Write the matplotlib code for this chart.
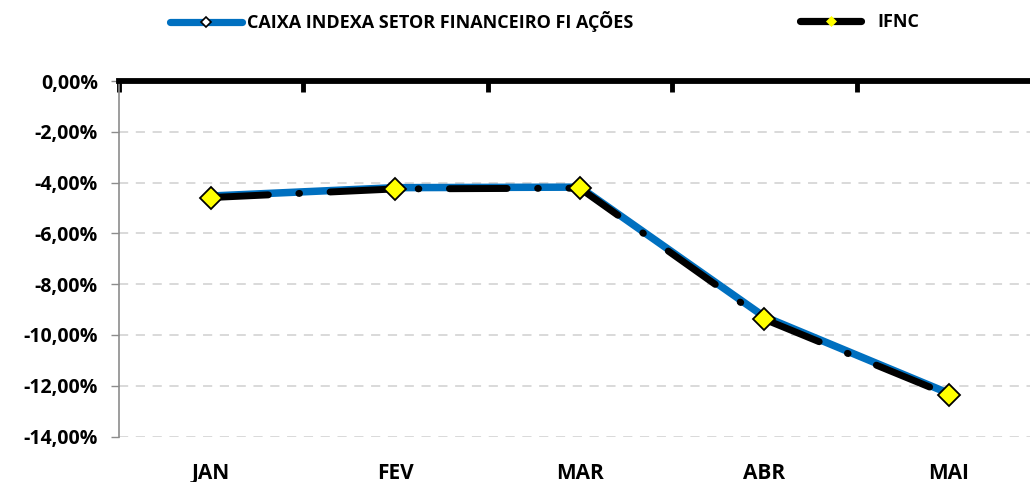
import matplotlib
matplotlib.use("Agg")
import matplotlib.pyplot as plt
from matplotlib.lines import Line2D
from matplotlib.ticker import FuncFormatter, FixedLocator

months = ["JAN", "FEV", "MAR", "ABR", "MAI"]
caixa = [-4.53, -4.20, -4.18, -9.28, -12.30]
ifnc = [-4.59, -4.25, -4.22, -9.38, -12.36]
series_names = ["CAIXA INDEXA SETOR FINANCEIRO FI AÇÕES", "IFNC"]
y_ticks = [0, -2, -4, -6, -8, -10, -12, -14]

FAM = ['Open Sans', 'DejaVu Sans']
plt.rcParams['font.family'] = FAM
plt.rcParams['font.weight'] = 'bold'

W, H = 1030, 482
fig = plt.figure(figsize=(W / 100, H / 100), dpi=100)
left, right, top, bottom = 118.5, 1041, 81, 436.5
ax = fig.add_axes([left / W, 1 - bottom / H, (right - left) / W, (bottom - top) / H])

x = list(range(len(months)))
blue = "#0070C0"
dash = (8.3, 4.4, 0.1, 4.4)

ax.plot(x, caixa, color=blue, lw=5.4, solid_capstyle='butt', zorder=3,
        marker='D', ms=5, mfc='white', mec='black', mew=1.0)
ax.plot(x, ifnc, color='black', lw=5.0, dashes=dash, dash_capstyle='round', zorder=4,
        marker='D', ms=11.5, mfc='#FFFF00', mec='black', mew=1.3)

ax.set_xlim(-0.5, len(months) - 0.5)
ax.set_ylim(-14, 0)

for yv in y_ticks[1:]:
    ax.axhline(yv, color='#D0D0D0', lw=1.1, dashes=(6, 5), zorder=1)

for s in ['right', 'bottom']:
    ax.spines[s].set_visible(False)
ax.spines['top'].set_color('black')
ax.spines['top'].set_linewidth(4.2)
ax.spines['top'].set_zorder(5)
ax.spines['left'].set_color('#8C8C8C')
ax.spines['left'].set_linewidth(1.2)

ax.yaxis.set_major_locator(FixedLocator(y_ticks))
def pct(v, pos):
    if abs(v) < 1e-9:
        v = 0.0
    return f"{v:.2f}%".replace('.', ',')
ax.yaxis.set_major_formatter(FuncFormatter(pct))
ax.tick_params(axis='y', direction='out', length=5.8, width=1.0, color='#8C8C8C',
               pad=9, labelsize=14, labelcolor='black')

ax.xaxis.set_major_locator(FixedLocator(x))
ax.set_xticklabels(months)
ax.xaxis.set_minor_locator(FixedLocator([i - 0.5 for i in range(len(months) + 1)]))
ax.tick_params(axis='x', which='major', bottom=True, top=False, length=0, pad=19,
               labelsize=15, labelbottom=True, labeltop=False)
ax.tick_params(axis='x', which='minor', bottom=False, top=True, direction='in',
               length=8, width=3.5, color='black')

for lab in ax.get_xticklabels() + ax.get_yticklabels():
    lab.set_fontweight('bold')

h1 = Line2D([], [], color=blue, lw=5.2, solid_capstyle='round',
            marker='D', ms=5, mfc='white', mec='black', mew=1.2)
h2 = Line2D([], [], color='black', lw=5.2, solid_capstyle='round',
            marker='D', ms=5, mfc='#FFFF00', mec='#FFFF00', mew=0.5)
prop = {'family': FAM, 'weight': 'bold', 'size': 13}
fig.legend([h1], [series_names[0]], loc='center left',
           bbox_to_anchor=(170 / W, 1 - 22 / H), frameon=False,
           borderpad=0, borderaxespad=0, handlelength=4.0, handletextpad=0.28, prop=prop)
fig.legend([h2], [series_names[1]], loc='center left',
           bbox_to_anchor=(800 / W, 1 - 22 / H), frameon=False,
           borderpad=0, borderaxespad=0, handlelength=3.4, handletextpad=0.9, prop=prop)

fig.savefig("out.png", dpi=100)
